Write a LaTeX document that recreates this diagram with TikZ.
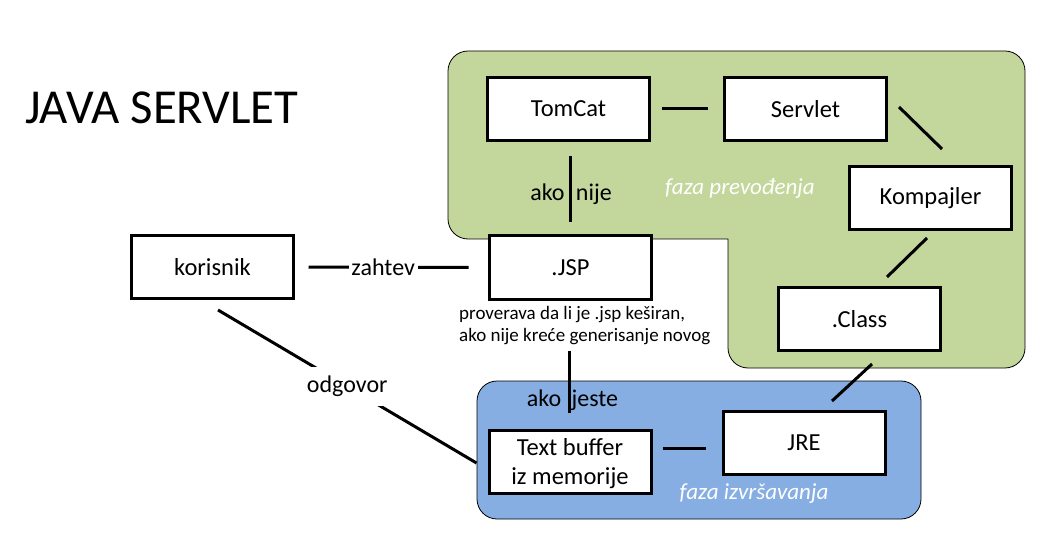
\documentclass[tikz,border=0pt]{standalone}
\usepackage{fontspec}
\setmainfont{Carlito}
\definecolor{greenfill}{HTML}{C3D69B}
\definecolor{bluefill}{HTML}{86AEE2}
\begin{document}
\begin{tikzpicture}[x=1pt,y=-1pt,
  box/.style={draw, line width=3pt, fill=white, minimum width=162pt, minimum height=63pt,
    font=\fontsize{24.5}{29}\selectfont, align=center, inner sep=0pt},
  conn/.style={line width=3pt},
  lbl/.style={font=\fontsize{24}{28}\selectfont},
  faza/.style={font=\fontsize{23}{28}\selectfont\itshape, text=white}]
\useasboundingbox (0,0) rectangle (1063,556);
\path[fill=white] (0,0) rectangle (1063,556);

% phase regions
\draw[fill=greenfill, line width=0.8pt] (728,239) [rounded corners=20pt] -- (448,239) -- (448,51)
  -- (1025,51) -- (1025,368) -- (728,368) -- (728,239);
\draw[fill=bluefill, line width=0.8pt, rounded corners=20pt] (477,381) rectangle (921,519);

% title
\node[anchor=base west, inner sep=0pt, font=\fontsize{48.8}{56}\selectfont] (title) at (25,124) {JAVA SERVLET};

% boxes
\node[box] (tomcat) at (568.5,109) {TomCat};
\node[box] (servlet) at (805.5,109) {Servlet};
\node[box] (kompajler) at (930.5,198) {Kompajler};
\node[box] (class) at (859.5,319) {.Class};
\node[box] (jsp) at (570.5,267.5) {.JSP};
\node[box] (korisnik) at (212.5,267) {korisnik};
\node[box] (textbuf) at (570,462) {\rule{0pt}{20pt}Text buffer\\iz memorije};
\node[box] (jre) at (804,443) {JRE};

% phase labels
\node[faza] (fp) at (740,188) {faza prevođenja};
\node[faza] (fi) at (754,494) {faza izvršavanja};

% note
\node[anchor=north west, align=left, inner sep=0pt, font=\fontsize{19}{22}\selectfont] (note) at (459,306)
  {proverava da li je .jsp keširan,\\ako nije kreće generisanje novog};

% connectors
\draw[conn, shorten <=11pt, shorten >=15pt] (tomcat.east) -- (servlet.west);
\draw[conn] ([shift={(11,-2)}]servlet.east) -- ([shift={(11.5,-16)}]kompajler.north);
\draw[conn] ([shift={(-3.5,7)}]kompajler.south) -- ([shift={(27.5,-9)}]class.north);
\draw[conn] ([shift={(12.5,12)}]class.south) -- ([shift={(28,-9)}]jre.north);
\draw[conn] ([shift={(2,14)}]tomcat.south) -- ([shift={(0,-12)}]jsp.north);
\node[lbl] (akonije) at (571,194) {ako\ \hspace{6pt}nije};
\draw[conn] ([shift={(-1.5,50)}]jsp.south) -- ([shift={(-1,-16)}]textbuf.north);
\node[lbl] (akojeste) at (572.5,400) {ako\ \hspace{5pt}jeste};
\draw[conn] ([shift={(10,-14)}]textbuf.east) -- ([shift={(-16,5)}]jre.west);
\draw[conn, shorten <=13.5pt, shorten >=19.5pt] (korisnik.east) -- (jsp.west)
  node[lbl, pos=0.457, fill=white, inner xsep=3pt, inner ysep=1pt] (zahtev) {zahtev};
\draw[conn] ([shift={(5.5,10)}]korisnik.south) -- ([shift={(-11,1)}]textbuf.west)
  node[lbl, pos=0.5, fill=white, inner xsep=1pt, inner ysep=9pt] (odg) {odgovor};
\end{tikzpicture}
\end{document}
